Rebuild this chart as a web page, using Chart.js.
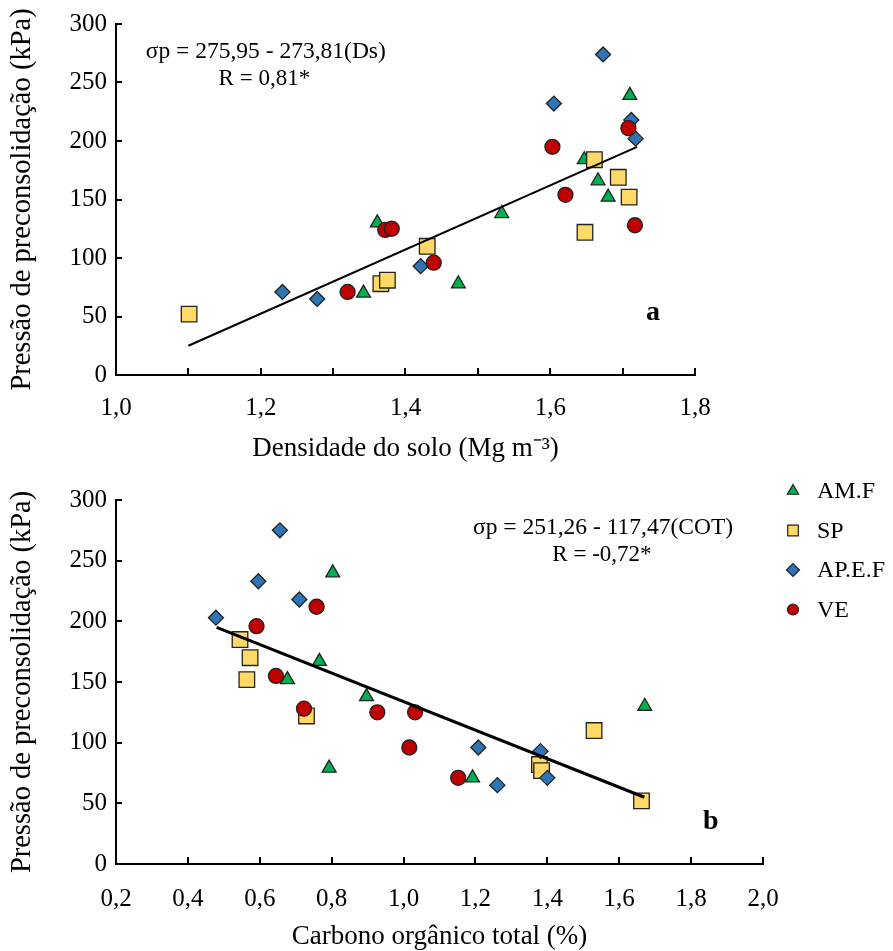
<!DOCTYPE html>
<html><head><meta charset="utf-8">
<script src="https://cdn.jsdelivr.net/npm/chart.js@4/dist/chart.umd.min.js"></script>
<style>
html,body{margin:0;padding:0;background:#fff;width:893px;height:951px;overflow:hidden}
canvas{position:absolute;left:0}
</style></head><body>
<canvas id="ca" width="893" height="475" style="top:0"></canvas>
<canvas id="cb" width="893" height="478" style="top:475px"></canvas>
<script>
// ---------- DATA ----------
const seriesNames = ['AM.F', 'SP', 'AP.E.F', 'VE'];

// Chart a: Densidade do solo (Mg m-3) x Pressão de preconsolidação (kPa)
const amfX_a = [1.361, 1.342, 1.473, 1.533, 1.647, 1.666, 1.680, 1.710];
const amfY_a = [130, 70, 78, 138, 184, 166, 152, 239];
const spX_a  = [1.101, 1.366, 1.375, 1.430, 1.648, 1.661, 1.694, 1.709];
const spY_a  = [52, 78, 81, 110, 122, 184, 169, 152];
const apX_a  = [1.230, 1.278, 1.421, 1.605, 1.673, 1.712, 1.718];
const apY_a  = [71, 65, 93, 232, 274, 218, 202];
const veX_a  = [1.320, 1.372, 1.381, 1.439, 1.603, 1.621, 1.708, 1.717];
const veY_a  = [71, 124, 125, 96, 195, 154, 211, 128];
const fitX_a = [1.10, 1.72];
const fitY_a = [25, 195];

// Chart b: Carbono orgânico total (%) x Pressão de preconsolidação (kPa)
const amfX_b = [0.803, 0.766, 0.677, 0.897, 0.793, 1.192, 1.671];
const amfY_b = [240, 167, 152, 138, 79, 71, 130];
const spX_b  = [0.545, 0.573, 0.564, 0.730, 1.378, 1.384, 1.530, 1.662];
const spY_b  = [185, 170, 152, 122, 82, 77, 110, 52];
const apX_b  = [0.478, 0.596, 0.656, 0.710, 1.208, 1.261, 1.381, 1.400];
const apY_b  = [203, 233, 275, 218, 96, 65, 93, 71];
const veX_b  = [0.591, 0.645, 0.723, 0.758, 0.927, 1.016, 1.032, 1.152];
const veY_b  = [196, 155, 128, 212, 125, 96, 125, 71];
const fitX_b = [0.48, 1.67];
const fitY_b = [195, 55];

// Axis ranges / ticks
const xTicksA = {min: 1.0, max: 1.8, step: 0.1, labelEvery: 2};
const xTicksB = {min: 0.2, max: 2.0, step: 0.2, labelEvery: 1};
const yTicks  = {min: 0, max: 300, step: 50};

const textA = {eq: 'σp = 275,95 - 273,81(Ds)', r: 'R = 0,81*', tag: 'a',
  xTitle: 'Densidade do solo (Mg m⁻³)'};
const textB = {eq: 'σp = 251,26 - 117,47(COT)', r: 'R = -0,72*', tag: 'b',
  xTitle: 'Carbono orgânico total (%)'};
const yTitle = 'Pressão de preconsolidação (kPa)';

// ---------- STYLE ----------
const FONT = 'Liberation Serif, Times New Roman, serif';
const sty = [
  {pointStyle: 'triangle', radius: 8, color: '#00B050', lr: 6.5},
  {pointStyle: 'rect', radius: 11, color: '#FFD966', lr: 7.5},
  {pointStyle: 'rectRot', radius: 7.5, color: '#2E75B6', lr: 6.5},
  {pointStyle: 'circle', radius: 7.5, color: '#C00000', lr: 5.5}
];
const orders = [4, 3, 2, 1];

function pts(xs, ys) { return xs.map((x, i) => ({x: x, y: ys[i]})); }
function fmt(v) { return v.toFixed(1).replace('.', ','); }

const innerTicks = {
  id: 'innerTicks',
  afterDraw(chart) {
    const {ctx, chartArea: ca, scales: {x, y}} = chart;
    ctx.save();
    ctx.strokeStyle = '#000'; ctx.lineWidth = 2;
    x.ticks.forEach(t => {
      const px = Math.round(x.getPixelForValue(t.value));
      ctx.beginPath(); ctx.moveTo(px, ca.bottom); ctx.lineTo(px, ca.bottom - 7); ctx.stroke();
    });
    y.ticks.forEach(t => {
      const py = Math.round(y.getPixelForValue(t.value));
      ctx.beginPath(); ctx.moveTo(ca.left, py); ctx.lineTo(ca.left + 6, py); ctx.stroke();
    });
    ctx.restore();
  }
};

const annot = {
  id: 'annot',
  afterDraw(chart, args, opts) {
    const {ctx, scales: {x, y}} = chart;
    ctx.save();
    ctx.fillStyle = '#000';
    ctx.textAlign = 'center'; ctx.textBaseline = 'middle';
    (opts.items || []).forEach(it => {
      ctx.font = it.font;
      ctx.fillText(it.text, x.getPixelForValue(it.x), y.getPixelForValue(it.y));
    });
    if (opts.legend) {
      const L = opts.legend;
      chart.data.datasets.slice(0, 4).forEach((ds, i) => {
        const cy = L.y + i * L.dy;
        ctx.fillStyle = ds.backgroundColor; ctx.strokeStyle = '#222';
        ctx.lineWidth = 1.2;
        Chart.helpers.drawPoint(ctx, {pointStyle: sty[i].pointStyle, radius: sty[i].lr, rotation: 0, borderWidth: 1.2}, L.x, cy);
        ctx.fillStyle = '#000';
        ctx.font = '24px ' + FONT; ctx.textAlign = 'left'; ctx.textBaseline = 'middle';
        ctx.fillText(ds.label, L.tx, cy + 1);
      });
    }
    ctx.restore();
  }
};

function makeChart(id, data, xt, txt, geo) {
  const sets = data.series.map((s, i) => ({
    label: seriesNames[i], data: pts(s[0], s[1]),
    pointStyle: sty[i].pointStyle, pointRadius: sty[i].radius, pointHoverRadius: sty[i].radius,
    backgroundColor: sty[i].color, borderColor: '#222', pointBorderWidth: 1.3, borderWidth: 1.3,
    order: orders[i]
  }));
  sets.push({label: 'fit', type: 'line', data: pts(data.fit[0], data.fit[1]), showLine: true,
    borderColor: '#000', borderWidth: geo.lw, pointRadius: 0, fill: false, order: 0});
  return new Chart(document.getElementById(id), {
    type: 'scatter',
    data: {datasets: sets},
    options: {
      responsive: false, animation: false, devicePixelRatio: 1,
      layout: {padding: {left: 0, top: geo.top, right: geo.right, bottom: 0}},
      plugins: {legend: {display: false}, tooltip: {enabled: false},
        annot: {items: geo.items, legend: geo.legend}},
      scales: {
        x: {
          type: 'linear', min: xt.min, max: xt.max,
          afterFit: s => { s.height = geo.xh; },
          grid: {display: false, drawTicks: false},
          border: {display: true, color: '#000', width: 2},
          ticks: {stepSize: xt.step, autoSkip: false, maxRotation: 0, padding: geo.tp,
            color: '#000', font: {family: FONT, size: 25},
            callback: v => { const k = Math.round(v / xt.step); return k % xt.labelEvery === 0 ? fmt(v) : ''; }},
          title: {display: true, text: txt.xTitle, color: '#000', font: {family: FONT, size: 27},
            padding: {top: 0, bottom: geo.xtp}}
        },
        y: {
          type: 'linear', min: yTicks.min, max: yTicks.max,
          afterFit: s => { s.width = 116; },
          grid: {display: false, drawTicks: false},
          border: {display: true, color: '#000', width: 2},
          ticks: {stepSize: yTicks.step, padding: 9, color: '#000', font: {family: FONT, size: 25}},
          title: {display: true, text: yTitle, color: '#000', font: {family: FONT, size: 28.5},
            padding: {top: 5, bottom: 0}}
        }
      }
    },
    plugins: [innerTicks, annot]
  });
}

makeChart('ca',
  {series: [[amfX_a, amfY_a], [spX_a, spY_a], [apX_a, apY_a], [veX_a, veY_a]], fit: [fitX_a, fitY_a]},
  xTicksA, textA,
  {top: 20, right: 198, xh: 100, xtp: 10, tp: 18, lw: 2,
   items: [
     {text: textA.eq, x: 1.207, y: 276, font: '23.5px ' + FONT},
     {text: textA.r, x: 1.205, y: 253, font: '23px ' + FONT},
     {text: textA.tag, x: 1.742, y: 53, font: 'bold 28px ' + FONT}
   ]});

makeChart('cb',
  {series: [[amfX_b, amfY_b], [spX_b, spY_b], [apX_b, apY_b], [veX_b, veY_b]], fit: [fitX_b, fitY_b]},
  xTicksB, textB,
  {top: 25, right: 130, xh: 89, xtp: 0, tp: 20, lw: 3,
   items: [
     {text: textB.eq, x: 1.555, y: 277, font: '23.5px ' + FONT},
     {text: textB.r, x: 1.552, y: 254.6, font: '23px ' + FONT},
     {text: textB.tag, x: 1.855, y: 34.6, font: 'bold 28px ' + FONT}
   ],
   legend: {x: 793, tx: 817, y: 16, dy: 39.5}});
</script>
</body></html>
